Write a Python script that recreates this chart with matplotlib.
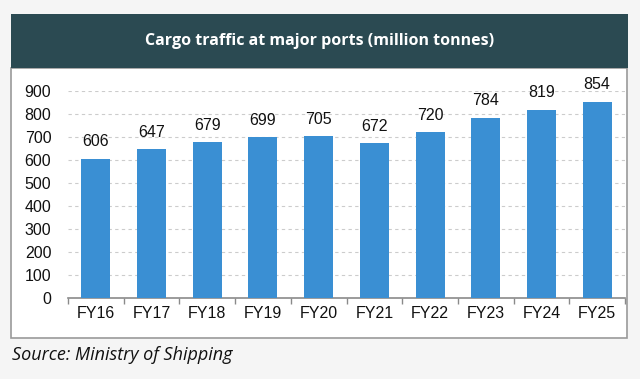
import numpy as np
import matplotlib.pyplot as plt
from matplotlib.patches import Rectangle

years = ["FY16", "FY17", "FY18", "FY19", "FY20", "FY21", "FY22", "FY23", "FY24", "FY25"]
traffic = [606, 647, 679, 699, 705, 672, 720, 784, 819, 854]
yticks = [0, 100, 200, 300, 400, 500, 600, 700, 800, 900]

W, H = 640, 379
fig = plt.figure(figsize=(W / 100, H / 100), dpi=100, facecolor="#f5f5f5")

# panel frame + dark title band
fig.patches.append(Rectangle((11 / W, 1 - 338 / H), 616 / W, (338 - 68) / H,
                             transform=fig.transFigure, facecolor="white",
                             edgecolor="#9a9a9a", linewidth=1.2, zorder=0))
fig.patches.append(Rectangle((11 / W, 1 - 68 / H), 617 / W, 54 / H,
                             transform=fig.transFigure, facecolor="#2b4a52",
                             edgecolor="none", zorder=1))
fig.text(0.5, 1 - 41 / H, "Cargo traffic at major ports (million tonnes)",
         ha="center", va="center", color="white", fontsize=11.5,
         fontweight="bold", family="Open Sans")

ax = fig.add_axes([68 / W, 1 - 298 / H, 557 / W, 207 / H])
ax.set_zorder(5)
ax.set_facecolor("none")
x = np.arange(len(years))
ax.bar(x, traffic, width=0.52, color="#3a8fd3", zorder=3)
for xi, v in zip(x, traffic):
    ax.text(xi, v + 40, str(v), ha="center", va="bottom", fontsize=11.5,
            family="Liberation Sans", color="#111111", clip_on=False)

ax.set_xlim(-0.5, len(years) - 0.5)
ax.set_ylim(0, 900)
ax.set_yticks(yticks)
ax.set_xticks(x)
ax.set_xticklabels(years)
ax.set_xticks(np.arange(len(years) + 1) - 0.5, minor=True)
ax.tick_params(axis="x", which="major", length=0, pad=6, labelsize=11.5)
ax.tick_params(axis="x", which="minor", length=4, color="#8a8a8a", width=1)
ax.tick_params(axis="y", length=0, pad=12, labelsize=11.5)
for lab in ax.get_xticklabels() + ax.get_yticklabels():
    lab.set_family("Liberation Sans")
    lab.set_color("#111111")

ax.grid(True, axis="y", linestyle=(0, (3, 3)), color="#cccccc", linewidth=0.8, zorder=0)
for s in ["top", "right", "left"]:
    ax.spines[s].set_visible(False)
ax.spines["bottom"].set_color("#8a8a8a")
ax.spines["bottom"].set_linewidth(1.2)

fig.text(12 / W, 1 - 355 / H, "Source: Ministry of Shipping", ha="left", va="center",
         fontsize=13, style="italic", family="Open Sans", color="#111111")

fig.savefig("out.png", dpi=100, facecolor=fig.get_facecolor())
